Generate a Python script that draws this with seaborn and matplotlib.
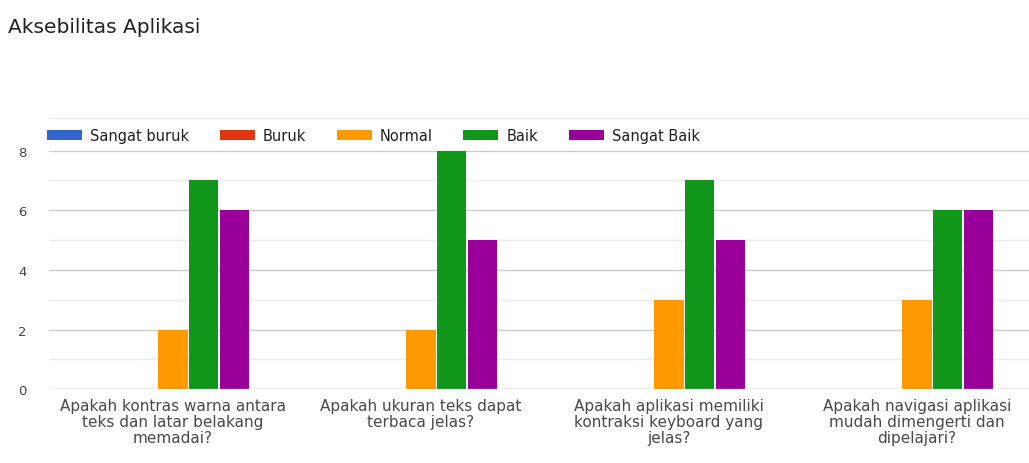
import numpy as np
import pandas as pd
import matplotlib
matplotlib.use("Agg")
import matplotlib.pyplot as plt
import seaborn as sns

questions = [
    "Apakah kontras warna antara\nteks dan latar belakang\nmemadai?",
    "Apakah ukuran teks dapat\nterbaca jelas?",
    "Apakah aplikasi memiliki\nkontraksi keyboard yang\njelas?",
    "Apakah navigasi aplikasi\nmudah dimengerti dan\ndipelajari?",
]
ratings = ["Sangat buruk", "Buruk", "Normal", "Baik", "Sangat Baik"]
sangat_buruk = [0, 0, 0, 0]
buruk = [0, 0, 0, 0]
normal = [2, 2, 3, 3]
baik = [7, 8, 7, 6]
sangat_baik = [6, 5, 5, 6]
colors = ["#3366cc", "#dc3912", "#ff9900", "#109618", "#990099"]

rows = []
for r, vals in zip(ratings, [sangat_buruk, buruk, normal, baik, sangat_baik]):
    for q, v in zip(questions, vals):
        rows.append({"q": q, "rating": r, "n": v})
df = pd.DataFrame(rows)

sns.set_theme(style="white")
plt.rcParams["font.family"] = ["DejaVu Sans"]

fig = plt.figure(figsize=(10.29, 4.64), dpi=100)
ax = fig.add_axes([0.0476, 0.159, 0.964, 0.585])

sns.barplot(data=df, x="q", y="n", hue="rating", hue_order=ratings,
            order=questions, palette=colors, saturation=1, width=0.62, gap=0.04,
            linewidth=0, errorbar=None, ax=ax, legend=True)

ax.set_xlim(-0.5, 3.5)
ax.set_ylim(0, 9.1)
ax.set_yticks([0, 2, 4, 6, 8])
for v in [1, 3, 5, 7, 9.1]:
    ax.axhline(v, color="#ebebeb", lw=1, zorder=0)
for v in [2, 4, 6, 8]:
    ax.axhline(v, color="#cccccc", lw=1, zorder=0)
ax.axhline(0, color="#999999", lw=1, zorder=3)
for s in ax.spines.values():
    s.set_visible(False)
ax.set_xlabel("")
ax.set_ylabel("")
ax.tick_params(axis="y", length=0, labelsize=9.5, labelcolor="#444444", pad=22)
ax.tick_params(axis="x", length=0, labelsize=11, labelcolor="#4a4a4a", pad=6)
for lab in ax.get_yticklabels():
    lab.set_horizontalalignment("left")
for lab in ax.get_xticklabels():
    lab.set_linespacing(1.1)

ax.legend(loc="center left", bbox_to_anchor=(-0.002, 0.934), ncol=5, frameon=False,
          fontsize=10.5, handlelength=2.4, handleheight=0.7, columnspacing=2.1,
          handletextpad=0.55, borderpad=0, borderaxespad=0, labelcolor="#222222")

fig.text(0.008, 0.94, "Aksebilitas Aplikasi", fontsize=14.5, color="#202124",
         ha="left", va="center")

fig.savefig("out.png", dpi=100)
